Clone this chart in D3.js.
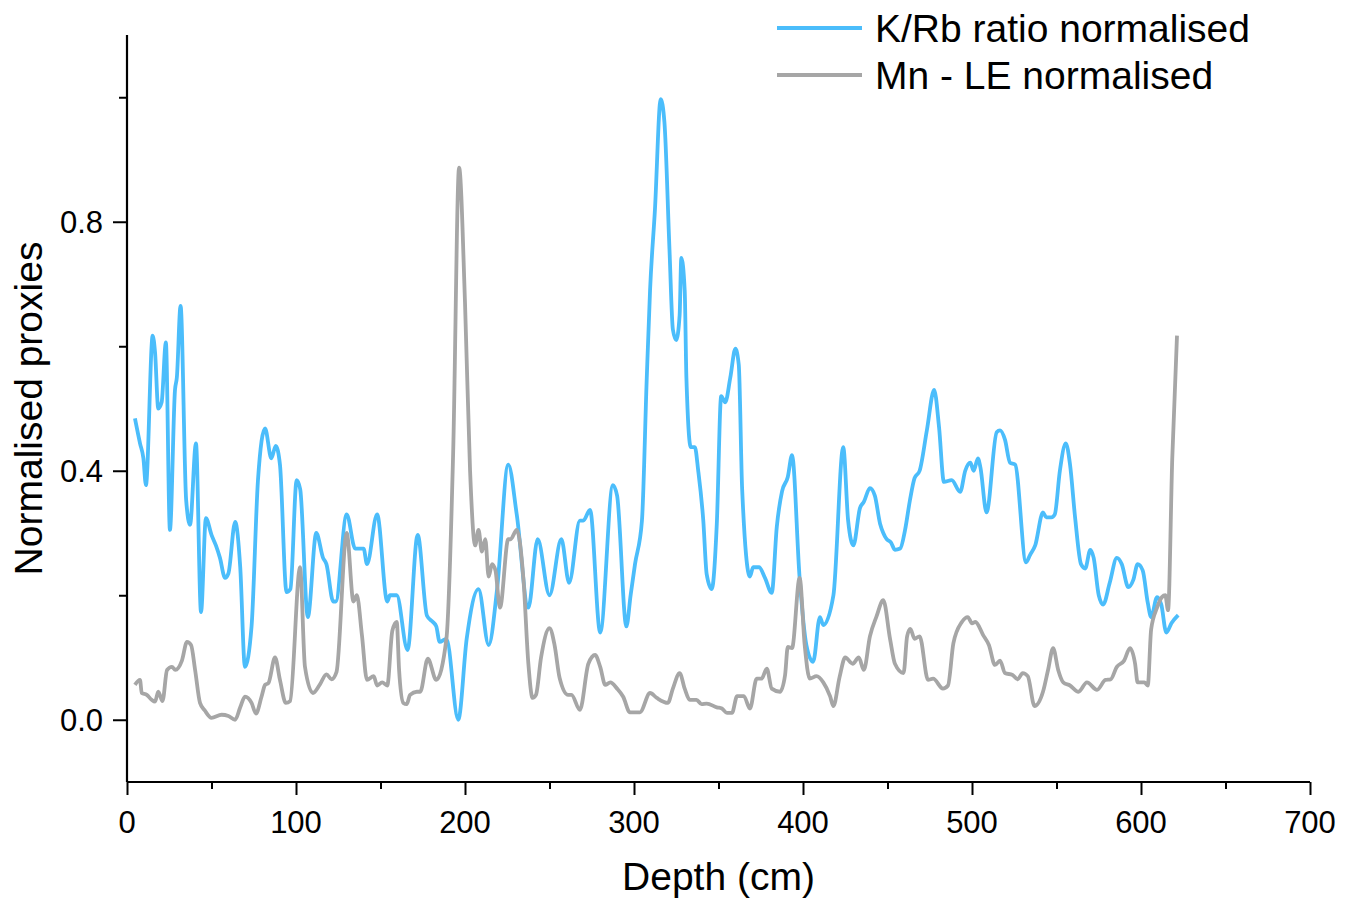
<!DOCTYPE html>
<html>
<head>
<meta charset="utf-8">
<script src="https://cdn.jsdelivr.net/npm/d3@7"></script>
<style>
  body { margin: 0; background: #fff; }
  svg { display: block; font-family: "Liberation Sans", Arial, sans-serif; }
</style>
</head>
<body>
<svg id="chart" width="1351" height="901"></svg>
<script>
// K/Rb ratio (normalised) vs depth
const kDepth = [4.7, 7.7, 9.7, 11.2, 15.2, 16.6, 18.5, 20.5, 23, 25.4, 28.4, 29.5, 31.7, 35, 37.3, 40.8, 43.8, 46.7, 50, 52.6, 55, 58, 60, 64, 67, 69.8, 73.7, 77.5, 81.7, 85.4, 88, 90.5, 94.4, 96.7, 100.4, 102.5, 107, 112, 116, 118, 122, 123.5, 130, 135, 140, 142, 148, 154, 155.6, 159.6, 166, 172, 177.5, 181, 183, 185, 189, 196, 201, 208, 214, 219, 225.6, 230.6, 237.5, 243, 250, 257, 261.6, 268, 270, 274, 280, 287.5, 290, 295.5, 298, 300.6, 304.7, 307.5, 309.5, 312.4, 315.8, 318, 321, 323, 325, 327, 328, 330, 331, 333.6, 336, 338, 341, 343, 346, 349, 351.6, 354, 357, 360, 362, 364, 368.6, 370.5, 374, 377.5, 381.5, 384.5, 387.6, 391, 393.5, 398, 402, 406, 410, 412, 418, 423.8, 426.7, 429.8, 433.7, 436, 439.6, 442.5, 445.6, 447.5, 449.5, 452, 454.4, 457.5, 460.4, 463.3, 466, 469, 473.3, 477.6, 480.5, 483.4, 488, 493, 496, 499, 501, 503.5, 505, 508.6, 514.6, 516.6, 519.5, 522.5, 525.5, 532, 534.4, 537.4, 542, 544, 547, 549, 552, 555.5, 558, 561, 564.5, 567, 570, 572, 575, 577.6, 581.5, 585.7, 588.6, 592.5, 595.5, 598, 601, 604, 606, 609.5, 612, 615, 618, 622];
const kValue = [0.484, 0.444, 0.42, 0.377, 0.617, 0.59, 0.5, 0.51, 0.606, 0.305, 0.53, 0.55, 0.665, 0.353, 0.313, 0.444, 0.173, 0.324, 0.297, 0.28, 0.26, 0.228, 0.235, 0.318, 0.245, 0.085, 0.15, 0.385, 0.468, 0.42, 0.44, 0.41, 0.205, 0.21, 0.385, 0.37, 0.165, 0.3, 0.26, 0.25, 0.19, 0.19, 0.33, 0.275, 0.275, 0.25, 0.33, 0.19, 0.2, 0.2, 0.112, 0.297, 0.167, 0.157, 0.15, 0.125, 0.13, 0.0, 0.13, 0.21, 0.12, 0.21, 0.41, 0.33, 0.18, 0.29, 0.2, 0.29, 0.22, 0.32, 0.32, 0.337, 0.14, 0.377, 0.36, 0.15, 0.2, 0.25, 0.32, 0.545, 0.69, 0.82, 0.997, 0.96, 0.755, 0.627, 0.61, 0.65, 0.742, 0.69, 0.55, 0.438, 0.438, 0.4, 0.32, 0.234, 0.21, 0.315, 0.52, 0.51, 0.55, 0.596, 0.57, 0.37, 0.23, 0.245, 0.245, 0.228, 0.204, 0.31, 0.367, 0.39, 0.425, 0.228, 0.12, 0.093, 0.165, 0.152, 0.2, 0.438, 0.32, 0.28, 0.34, 0.35, 0.372, 0.36, 0.315, 0.3, 0.29, 0.285, 0.273, 0.275, 0.305, 0.353, 0.388, 0.4, 0.465, 0.53, 0.47, 0.382, 0.385, 0.366, 0.4, 0.413, 0.4, 0.42, 0.405, 0.333, 0.462, 0.465, 0.45, 0.413, 0.41, 0.253, 0.265, 0.28, 0.333, 0.325, 0.325, 0.33, 0.4, 0.444, 0.41, 0.325, 0.25, 0.243, 0.273, 0.26, 0.2, 0.185, 0.22, 0.26, 0.25, 0.213, 0.225, 0.25, 0.24, 0.188, 0.165, 0.197, 0.185, 0.14, 0.155, 0.168];

// Mn - LE (normalised) vs depth
const mnDepth = [4.7, 7.7, 8.7, 11.7, 14.6, 16.6, 18.5, 21, 23.7, 26.6, 28.6, 32.5, 35.5, 37.9, 40.3, 43.2, 46, 50, 56, 60, 64, 67, 69.8, 73.7, 76.3, 79.6, 81.7, 83.7, 87.6, 90.5, 94, 96.5, 102.4, 105.3, 110, 114, 118, 121, 124, 130, 134, 136, 139, 142, 146, 148, 151, 154, 157, 159.6, 161, 163.5, 165.5, 167.5, 171.5, 173.5, 178, 183, 189, 193, 196.5, 200, 203, 206, 208, 210, 212, 214, 216, 218, 220.7, 225.6, 227, 230.6, 234.6, 237.5, 240, 242, 245, 250, 253, 256, 261, 263, 268, 273, 277, 280, 283, 286, 290, 293.6, 297.6, 303.5, 309.5, 313.5, 320, 323, 327, 330, 333, 337, 340, 343, 349, 352, 355, 358, 361, 365, 368.6, 372.6, 375.5, 378.6, 381.5, 386.4, 389.4, 391, 393.5, 398, 401, 404, 408, 412, 416, 418, 421.6, 425, 429.4, 433, 436, 439.6, 443.5, 447.5, 451.5, 454.4, 459.5, 461.6, 463.5, 466, 469, 474, 477, 482.8, 485.8, 489, 494, 497.5, 500, 502, 506.6, 510, 513.6, 516.6, 519.5, 524, 527, 530, 533, 537, 542, 545, 548, 551, 554, 558, 563, 568, 574, 579, 582, 585.7, 590, 593.5, 596.5, 598, 602, 604, 606, 609.5, 612.4, 614.4, 616, 618.5, 621.3];
const mnValue = [0.056, 0.064, 0.043, 0.04, 0.032, 0.029, 0.045, 0.03, 0.08, 0.085, 0.08, 0.095, 0.125, 0.12, 0.08, 0.027, 0.015, 0.003, 0.008, 0.006, 0.0, 0.02, 0.037, 0.027, 0.01, 0.037, 0.056, 0.059, 0.1, 0.064, 0.027, 0.03, 0.245, 0.085, 0.043, 0.056, 0.073, 0.065, 0.077, 0.3, 0.19, 0.2, 0.136, 0.064, 0.07, 0.055, 0.06, 0.055, 0.143, 0.157, 0.08, 0.027, 0.025, 0.04, 0.045, 0.045, 0.098, 0.064, 0.13, 0.43, 0.887, 0.67, 0.4, 0.28, 0.305, 0.27, 0.29, 0.23, 0.25, 0.24, 0.18, 0.29, 0.29, 0.305, 0.225, 0.09, 0.035, 0.04, 0.1, 0.147, 0.12, 0.067, 0.04, 0.04, 0.016, 0.09, 0.104, 0.085, 0.056, 0.06, 0.05, 0.037, 0.012, 0.012, 0.043, 0.035, 0.027, 0.05, 0.075, 0.05, 0.032, 0.032, 0.025, 0.026, 0.02, 0.018, 0.011, 0.011, 0.038, 0.038, 0.018, 0.066, 0.066, 0.082, 0.05, 0.045, 0.072, 0.117, 0.115, 0.228, 0.12, 0.066, 0.07, 0.06, 0.038, 0.022, 0.068, 0.1, 0.09, 0.1, 0.08, 0.134, 0.166, 0.192, 0.13, 0.09, 0.075, 0.134, 0.146, 0.13, 0.134, 0.064, 0.066, 0.05, 0.055, 0.123, 0.157, 0.165, 0.155, 0.157, 0.136, 0.12, 0.088, 0.095, 0.075, 0.072, 0.065, 0.075, 0.07, 0.022, 0.045, 0.08, 0.115, 0.08, 0.06, 0.055, 0.045, 0.06, 0.048, 0.064, 0.065, 0.085, 0.095, 0.115, 0.09, 0.06, 0.06, 0.055, 0.145, 0.18, 0.197, 0.2, 0.176, 0.42, 0.617];

const xMajor = [0, 100, 200, 300, 400, 500, 600, 700];
const xMinor = [50, 150, 250, 350, 450, 550, 650];
const yMajor = [0.0, 0.4, 0.8];
const yMinor = [0.2, 0.6, 1.0];

const seriesNames = ["K/Rb ratio normalised", "Mn - LE normalised"];
const seriesColors = ["#4bbdfb", "#a6a6a6"];

const svg = d3.select("#chart");
const margin = { top: 35, right: 41, bottom: 119, left: 127 };
const width = 1351, height = 901;
const innerWidth = width - margin.left - margin.right;
const innerHeight = height - margin.top - margin.bottom;

const x = d3.scaleLinear().domain([0, 700]).range([0, innerWidth]);
const y = d3.scaleLinear().domain([-0.1, 1.1]).range([innerHeight, 0]);

const g = svg.append("g").attr("transform", `translate(${margin.left},${margin.top})`);

// series lines
const kData = kDepth.map((d, i) => [d, kValue[i]]);
const mnData = mnDepth.map((d, i) => [d, mnValue[i]]);

const line = d3.line()
  .x(d => x(d[0]))
  .y(d => y(d[1]))
  .curve(d3.curveMonotoneX);

[kData, mnData].forEach((data, i) => {
  g.append("path")
    .datum(data)
    .attr("fill", "none")
    .attr("stroke", seriesColors[i])
    .attr("stroke-width", 3.8)
    .attr("stroke-linejoin", "round")
    .attr("d", line);
});

// axes: ticks from d3.axis, labels drawn as plain text below
function styleAxis(a) {
  a.select(".domain").attr("stroke", "#000").attr("stroke-width", 2.2);
  a.selectAll(".tick line").attr("stroke", "#000").attr("stroke-width", 2);
  a.selectAll(".tick text").remove();
}

const xAxisG = g.append("g").attr("transform", `translate(0,${innerHeight})`)
  .call(d3.axisBottom(x).tickValues(xMajor).tickSize(13).tickFormat(""));
const xMinorG = g.append("g").attr("transform", `translate(0,${innerHeight})`)
  .call(d3.axisBottom(x).tickValues(xMinor).tickSize(7).tickFormat(""));
const yAxisG = g.append("g")
  .call(d3.axisLeft(y).tickValues(yMajor).tickSize(14).tickFormat(""));
const yMinorG = g.append("g")
  .call(d3.axisLeft(y).tickValues(yMinor).tickSize(8).tickFormat(""));

[xAxisG, xMinorG, yAxisG, yMinorG].forEach(styleAxis);
xMinorG.select(".domain").remove();
yMinorG.select(".domain").remove();
// plain axis lines, without the end caps
xAxisG.select(".domain").attr("d", `M0,0H${innerWidth}`);
yAxisG.select(".domain").attr("d", `M0,0V${innerHeight}`);

g.append("g").selectAll("text")
  .data(xMajor)
  .join("text")
  .attr("x", d => x(d))
  .attr("y", innerHeight + 51)
  .attr("text-anchor", "middle")
  .attr("font-size", 31)
  .text(d3.format("d"));

g.append("g").selectAll("text")
  .data(yMajor)
  .join("text")
  .attr("x", -24)
  .attr("y", d => y(d) + 11)
  .attr("text-anchor", "end")
  .attr("font-size", 31)
  .text(d3.format(".1f"));

// axis titles
svg.append("text")
  .attr("x", margin.left + innerWidth / 2)
  .attr("y", 890)
  .attr("text-anchor", "middle")
  .attr("font-size", 39)
  .text("Depth (cm)");

svg.append("text")
  .attr("transform", `translate(42,${margin.top + innerHeight / 2}) rotate(-90)`)
  .attr("text-anchor", "middle")
  .attr("font-size", 39)
  .text("Normalised proxies");

// legend
const legend = svg.append("g").attr("transform", "translate(777,28)");
seriesNames.forEach((name, i) => {
  const row = legend.append("g").attr("transform", `translate(0,${i * 47})`);
  row.append("line")
    .attr("x1", 0).attr("x2", 85)
    .attr("y1", 0).attr("y2", 0)
    .attr("stroke", seriesColors[i])
    .attr("stroke-width", 3.8);
  row.append("text")
    .attr("x", 98)
    .attr("y", 14)
    .attr("font-size", 39)
    .text(name);
});
</script>
</body>
</html>
